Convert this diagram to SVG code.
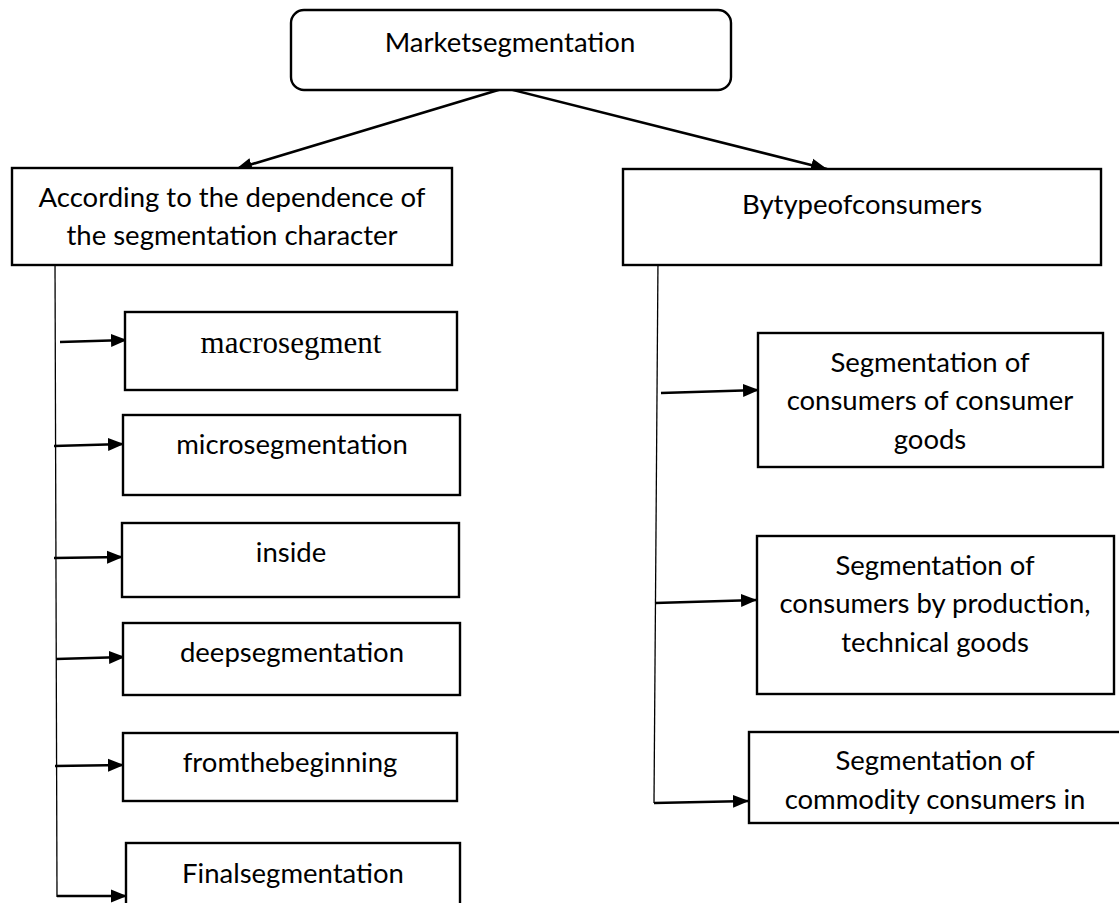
<svg xmlns="http://www.w3.org/2000/svg" width="1119" height="903" viewBox="0 0 1119 903">
  <style>
    .box { fill: #ffffff; stroke: #000000; stroke-width: 2.4; }
    .lbl { font-family: Lato, "Liberation Sans", sans-serif; font-size: 27.5px; fill: #000000; text-anchor: middle; }
    .serif { font-family: "Liberation Serif", serif; font-size: 31px; fill: #000000; text-anchor: middle; }
    .arrow { fill: none; stroke: #000000; stroke-width: 2.6; marker-end: url(#head); }
    .trunk { fill: none; stroke: #000000; stroke-width: 1.3; }
  </style>
  <defs>
    <marker id="head" markerUnits="userSpaceOnUse" markerWidth="18" markerHeight="14" refX="16" refY="7" orient="auto">
      <path d="M0,0.5 L16,7 L0,13.5 z" fill="#000000"/>
    </marker>
  </defs>
  <rect width="1119" height="903" fill="#ffffff"/>

  <!-- connectors -->
  <g id="connectors">
    <line class="arrow" x1="505" y1="88" x2="236" y2="169"/>
    <line class="arrow" x1="505" y1="88" x2="827" y2="169"/>
    <line class="trunk" x1="55" y1="260" x2="57" y2="897"/>
    <line class="arrow" x1="60" y1="342" x2="127" y2="340"/>
    <line class="arrow" x1="54" y1="446" x2="124" y2="444"/>
    <line class="arrow" x1="54" y1="558" x2="123" y2="557"/>
    <line class="arrow" x1="56" y1="659" x2="125" y2="657"/>
    <line class="arrow" x1="55" y1="766" x2="124" y2="765"/>
    <line class="arrow" x1="57" y1="896" x2="127" y2="896"/>
    <line class="trunk" x1="658" y1="259" x2="654" y2="803"/>
    <line class="arrow" x1="661" y1="393" x2="759" y2="390"/>
    <line class="arrow" x1="655" y1="603" x2="757" y2="600"/>
    <line class="arrow" x1="654" y1="803" x2="749" y2="801"/>
  </g>

  <g id="root">
    <rect class="box" x="291" y="10" width="440" height="80" rx="13"/>
    <text class="lbl" x="510" y="52">Marketsegmentation</text>
  </g>

  <g id="by-character">
    <rect class="box" x="12" y="168" width="440" height="97"/>
    <text class="lbl" x="232" y="207">According to the dependence of</text>
    <text class="lbl" x="232" y="245">the segmentation character</text>
  </g>

  <g id="by-consumers">
    <rect class="box" x="623" y="169" width="478" height="96"/>
    <text class="lbl" x="862" y="214">Bytypeofconsumers</text>
  </g>

  <g id="macrosegment">
    <rect class="box" x="125" y="312" width="332" height="78"/>
    <text class="serif" x="291" y="353">macrosegment</text>
  </g>

  <g id="microsegmentation">
    <rect class="box" x="123" y="415" width="337" height="80"/>
    <text class="lbl" x="292" y="454">microsegmentation</text>
  </g>

  <g id="inside">
    <rect class="box" x="122" y="523" width="337" height="74"/>
    <text class="lbl" x="291" y="562">inside</text>
  </g>

  <g id="deepsegmentation">
    <rect class="box" x="123" y="623" width="337" height="72"/>
    <text class="lbl" x="292" y="662">deepsegmentation</text>
  </g>

  <g id="fromthebeginning">
    <rect class="box" x="123" y="733" width="334" height="68"/>
    <text class="lbl" x="290" y="772">fromthebeginning</text>
  </g>

  <g id="finalsegmentation">
    <rect class="box" x="126" y="843" width="334" height="80"/>
    <text class="lbl" x="293" y="883">Finalsegmentation</text>
  </g>

  <g id="consumer-goods">
    <rect class="box" x="758" y="333" width="345" height="134"/>
    <text class="lbl" x="930" y="372">Segmentation of</text>
    <text class="lbl" x="930" y="410">consumers of consumer</text>
    <text class="lbl" x="930" y="449">goods</text>
  </g>

  <g id="technical-goods">
    <rect class="box" x="757" y="536" width="357" height="158"/>
    <text class="lbl" x="935" y="575">Segmentation of</text>
    <text class="lbl" x="935" y="613">consumers by production,</text>
    <text class="lbl" x="935" y="652">technical goods</text>
  </g>

  <g id="commodity">
    <rect class="box" x="749" y="732" width="380" height="91"/>
    <text class="lbl" x="935" y="770">Segmentation of</text>
    <text class="lbl" x="935" y="809">commodity consumers in</text>
  </g>
</svg>
